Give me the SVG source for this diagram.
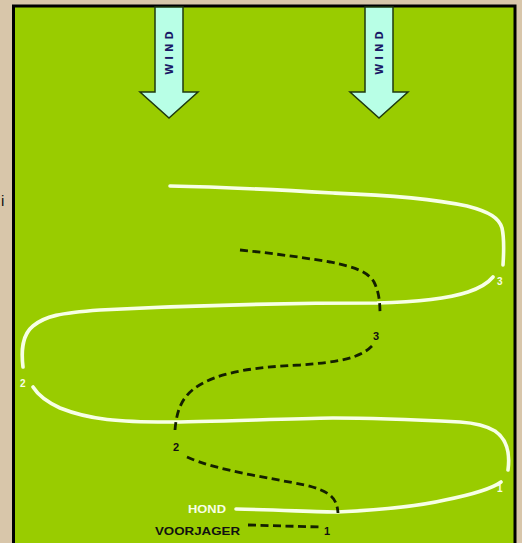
<svg xmlns="http://www.w3.org/2000/svg" width="522" height="543" viewBox="0 0 522 543">
<style>
.hond{fill:none;stroke:#f7ffe6;stroke-width:3.6;stroke-linecap:round;stroke-linejoin:round}
.voor{fill:none;stroke:#142000;stroke-width:2.8;stroke-dasharray:8 4.5}
.lblw{font-family:"Liberation Sans",Arial,sans-serif;font-weight:bold;font-size:10px;fill:#f7ffe6}
.lblb{font-family:"Liberation Sans",Arial,sans-serif;font-weight:bold;font-size:11px;fill:#111}
.arrow{fill:#b8ffe6;stroke:#1f3a10;stroke-width:1.5;stroke-linejoin:miter}
.wind{font-family:"DejaVu Sans","Liberation Sans",sans-serif;font-weight:bold;font-size:10px;fill:#1a1a66;letter-spacing:4px}
</style>
<rect x="0" y="0" width="522" height="543" fill="#d8c6aa"/>
<text x="1" y="206" font-family="Liberation Sans, Arial, sans-serif" font-size="15" fill="#111">i</text>
<rect x="13.5" y="6" width="501.5" height="545" fill="#99cc00" stroke="#000" stroke-width="3"/>

<g id="wind-left">
<path class="arrow" d="M155,7 L183,7 L183,92 L198,92 L169,118 L140,92 L155,92 Z"/>
<text class="wind" transform="translate(173,51) rotate(-90)" text-anchor="middle">WIND</text>
</g>
<g id="wind-right">
<path class="arrow" d="M365,7 L393,7 L393,92 L408,92 L379,118 L350,92 L365,92 Z"/>
<text class="wind" transform="translate(383,51) rotate(-90)" text-anchor="middle">WIND</text>
</g>

<g id="connectors">
<g id="hond-path">
<path class="hond" d="M236,509 C280,510 320,512 337,512 C380,510 420,506 445,500 C470,495 490,490 501,482"/>
<path class="hond" d="M508,470 C510,455 508,440 495,431 C485,425 475,423 460,422 C400,419 360,418 333,418 C280,419 200,422 167,422 C120,422 90,420 60,408 C45,401 38,395 33,387"/>
<path class="hond" d="M23,367 C21,350 22,335 33,326 C45,316 60,313 100,310 C200,305 300,303 377,303 C420,302 450,298 468,292 C480,288 488,283 493,277"/>
<path class="hond" d="M503,265 C504,250 504,237 502,228 C499,218 490,212 467,206 C420,196 360,194 333,193 C280,190 220,187 170,186"/>
</g>
<g id="voorjager-path">
<path class="voor" d="M240,250 C270,253 300,257 330,262 C355,267 368,272 374,282 C379,292 380,302 380,314"/>
<path class="voor" d="M372,346 C360,358 340,362 300,365 C255,367 225,372 205,382 C185,392 177,405 175,430"/>
<path class="voor" d="M187,457 C215,470 270,478 305,485 C330,491 337,498 338,513"/>
<path class="voor" d="M248,525 L320,527"/>
</g>
</g>

<g id="labels">
<text class="lblw" x="497" y="492">1</text>
<text class="lblw" x="20" y="387">2</text>
<text class="lblw" x="497" y="285">3</text>
<text class="lblb" x="324" y="535">1</text>
<text class="lblb" x="173" y="451">2</text>
<text class="lblb" x="373" y="340">3</text>
<text class="lblw" x="188" y="513" font-size="11" textLength="38" lengthAdjust="spacingAndGlyphs">HOND</text>
<text class="lblb" x="155" y="535" textLength="85" lengthAdjust="spacingAndGlyphs">VOORJAGER</text>
</g>
</svg>
